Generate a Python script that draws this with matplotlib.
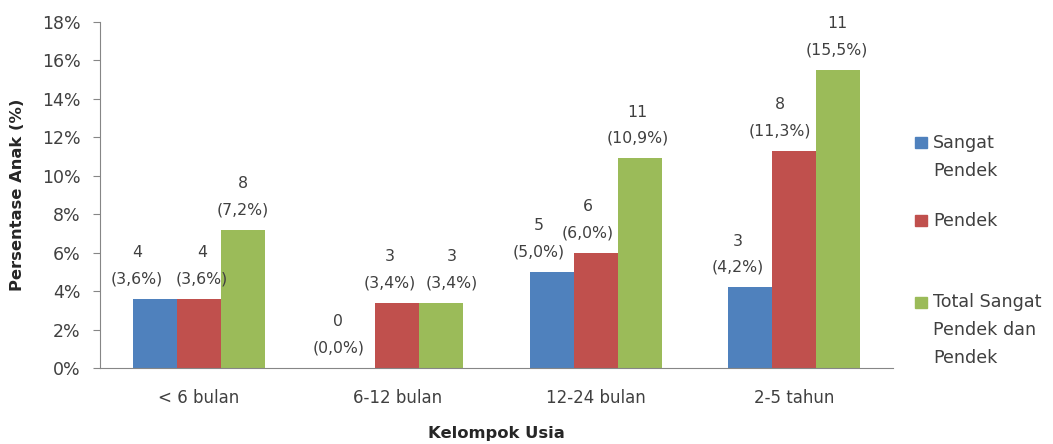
import matplotlib
matplotlib.use("Agg")
import matplotlib.pyplot as plt
from matplotlib.patches import Rectangle
import numpy as np

categories = ["< 6 bulan", "6-12 bulan", "12-24 bulan", "2-5 tahun"]
series_names = ["Sangat\nPendek", "Pendek", "Total Sangat\nPendek dan\nPendek"]
sangat_pendek_pct = [3.6, 0.0, 5.0, 4.2]
sangat_pendek_n = [4, 0, 5, 3]
pendek_pct = [3.6, 3.4, 6.0, 11.3]
pendek_n = [4, 3, 6, 8]
total_pct = [7.2, 3.4, 10.9, 15.5]
total_n = [8, 3, 11, 11]
y_ticks = [0, 2, 4, 6, 8, 10, 12, 14, 16, 18]

# horizontal nudges (pixels) that keep neighbouring value labels apart
label_nudge = [[-18, -15, -13, -12], [3, -8, -8, -14], [0, 10, -2, -1]]

colors = ["#4F81BD", "#C0504D", "#9BBB59"]
plt.rcParams["font.family"] = ["DejaVu Sans"]
FS_TITLE = 11.8
FS_LABEL = 11.3
LS = 1.93
PT = 72 / 100  # points per pixel at 100 dpi

fig = plt.figure(figsize=(10.53, 4.44), dpi=100)
ax = fig.add_axes([100 / 1053, 1 - 368 / 444, 793 / 1053, 346 / 444])

x = np.arange(len(categories))
width = 0.222
series = [(sangat_pendek_pct, sangat_pendek_n), (pendek_pct, pendek_n), (total_pct, total_n)]
for i, (pct, n) in enumerate(series):
    pos = x + (i - 1) * width
    ax.bar(pos, pct, width=width, color=colors[i], zorder=2)
    for j, (xp, v, c) in enumerate(zip(pos, pct, n)):
        lbl = f"{c}\n({v:.1f}%)".replace(".", ",")
        ax.annotate(lbl, (xp, v), xytext=(label_nudge[i][j] * PT, 9),
                    textcoords="offset points", ha="center", va="bottom",
                    fontsize=FS_LABEL, color="#404040",
                    multialignment="center", linespacing=LS)

ax.set_xlim(-0.5, len(categories) - 0.5)
ax.set_ylim(0, 18)
ax.set_yticks(y_ticks)
ax.set_yticklabels([f"{t}%" for t in y_ticks], fontsize=12.5, color="#404040")
ax.set_xticks(x)
ax.set_xticklabels(categories, fontsize=12, color="#404040")
ax.tick_params(axis="x", length=0, pad=15)
ax.tick_params(axis="y", length=5, color="#868686", pad=9)
for s in ["top", "right"]:
    ax.spines[s].set_visible(False)
for s in ["left", "bottom"]:
    ax.spines[s].set_color("#868686")

fig.text(18 / 1053, 1 - 195 / 444, "Persentase Anak (%)", rotation=90,
         ha="center", va="center", fontsize=FS_TITLE, fontweight="bold", color="#262626")
fig.text(496 / 1053, 1 - 433 / 444, "Kelompok Usia", ha="center", va="center",
         fontsize=FS_TITLE, fontweight="bold", color="#262626")

# legend drawn as figure-level swatches and labels
legend_first_line_y = [143, 221, 302]
for name, col, yl in zip(series_names, colors, legend_first_line_y):
    fig.patches.append(Rectangle((915 / 1053, 1 - (yl + 5.5) / 444), 12 / 1053, 11 / 444,
                                 transform=fig.transFigure, color=col))
    fig.text(933 / 1053, 1 - (yl - 9) / 444, name, ha="left", va="top",
             fontsize=12.6, color="#404040", linespacing=1.72)

fig.savefig("out.png", dpi=100)
